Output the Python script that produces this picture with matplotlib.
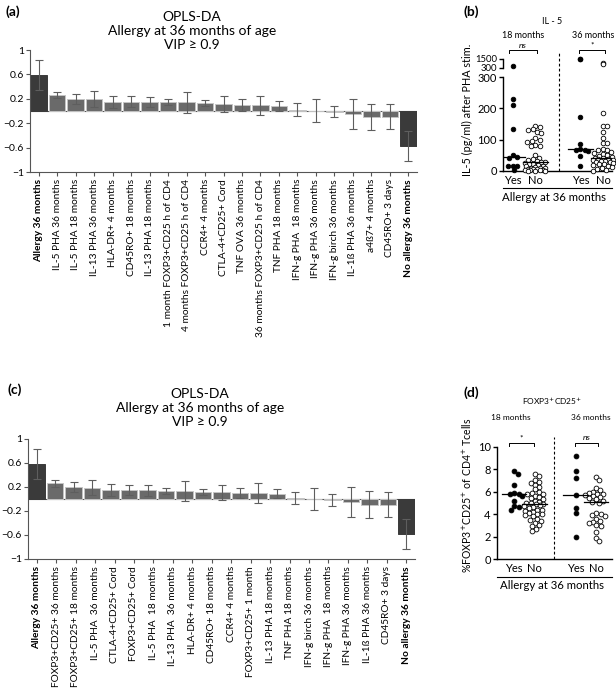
import numpy as np
import matplotlib
matplotlib.use('Agg')
import matplotlib.pyplot as plt
from matplotlib.ticker import FuncFormatter

plt.rcParams['font.family'] = ['Lato', 'DejaVu Sans']

# ---- panel (a) OPLS-DA loadings ----
labels_a = ['Allergy 36 months', 'IL-5 PHA 36 months', 'IL-5 PHA 18 months', 'IL-13 PHA 36 months',
            'HLA-DR+ 4 months', 'CD45RO+ 18 months', 'IL-13 PHA 18 months',
            '1 month FOXP3+CD25 h of CD4', '4 months FOXP3+CD25 h of CD4', 'CCR4+ 4 months',
            'CTLA-4+CD25+ Cord', 'TNF OVA 36 months', '36 months FOXP3+CD25 h of CD4',
            'TNF PHA 18 months', 'IFN-g PHA  18 months', 'IFN-g PHA 36 months',
            'IFN-g birch 36 months', 'IL-1ß PHA 36 months', 'a4ß7+ 4 months', 'CD45RO+ 3 days',
            'No allergy 36 months']
vals_a = [0.59, 0.26, 0.20, 0.20, 0.15, 0.15, 0.15, 0.15, 0.14, 0.125, 0.115,
          0.094, 0.094, 0.083, 0.02, 0.003, -0.015, -0.043, -0.093, -0.095, -0.58]
errs_a = [0.25, 0.05, 0.08, 0.13, 0.10, 0.09, 0.085, 0.05, 0.165, 0.05, 0.125,
          0.095, 0.16, 0.085, 0.11, 0.19, 0.09, 0.245, 0.215, 0.205, 0.245]

# ---- panel (c) OPLS-DA loadings ----
labels_c = ['Allergy 36 months', 'FOXP3+CD25+ 36 months', 'FOXP3+CD25+ 18 months', 'IL-5 PHA  36 months',
            'CTLA-4+CD25+ Cord', 'FOXP3+CD25+ Cord', 'IL-5 PHA  18 months', 'IL-13 PHA  36 months',
            'HLA-DR+ 4 months', 'CD45RO+ 18 months', 'CCR4+ 4 months', 'FOXP3+CD25+ 1 month',
            'IL-13 PHA 18 months', 'TNF PHA 18 months', 'IFN-g birch 36 months', 'IFN-g PHA  18 months',
            'IFN-g PHA 36 months', 'IL-1ß PHA 36 months', 'CD45RO+ 3 days', 'No allergy 36 months']
vals_c = [0.59, 0.26, 0.20, 0.19, 0.15, 0.15, 0.145, 0.14, 0.133, 0.116, 0.11,
          0.10, 0.10, 0.09, 0.017, 0.0, -0.017, -0.05, -0.094, -0.094, -0.58]
errs_c = [0.25, 0.06, 0.085, 0.13, 0.10, 0.09, 0.095, 0.05, 0.165, 0.053, 0.13,
          0.085, 0.165, 0.075, 0.105, 0.19, 0.095, 0.25, 0.22, 0.21, 0.245]

# ---- panel (b) IL-5 (pg/ml) ----
il5_yes18 = [520, 230, 212, 133, 50, 45, 42, 16, 16, 16, 2]
il5_no18 = [145, 140, 133, 130, 125, 120, 105, 100, 95, 92, 82, 80, 80, 50, 42, 38, 35, 30, 28, 28,
            25, 22, 20, 18, 16, 14, 12, 10, 9, 8, 6, 5, 4, 3, 2, 2, 1, 0, 0, 0]
il5_yes36 = [1550, 1450, 172, 85, 70, 68, 65, 62, 48, 15]
il5_no36 = [1000, 820, 185, 145, 142, 125, 105, 90, 88, 70, 68, 65, 60, 58, 55, 50, 48, 45, 42, 40,
            38, 36, 35, 33, 32, 30, 28, 27, 25, 22, 20, 18, 15, 12, 10, 5, 2, 0]

# ---- panel (d) %FOXP3+CD25+ of CD4+ T cells ----
fox_yes18 = [7.8, 7.6, 6.6, 5.9, 5.8, 5.8, 5.6, 5.2, 4.7, 4.4, 4.6]
fox_no18 = [7.6, 7.4, 7.0, 6.9, 6.8, 6.6, 6.4, 6.2, 6.0, 5.9, 5.8, 5.8, 5.6, 5.5, 5.4, 5.3, 5.2, 5.1,
            5.0, 5.0, 4.9, 4.9, 4.8, 4.7, 4.6, 4.5, 4.4, 4.4, 4.3, 4.2, 4.1, 4.0, 4.0, 3.9, 3.8, 3.6,
            3.5, 3.4, 3.2, 3.0, 2.9, 2.7, 2.5]
fox_yes36 = [9.2, 7.8, 7.2, 5.7, 4.5, 4.1, 2.0]
fox_no36 = [7.3, 7.0, 6.3, 6.1, 6.0, 5.9, 5.8, 5.8, 5.7, 5.6, 5.5, 5.4, 5.3, 5.2, 5.1, 5.0, 4.1,
            4.0, 3.9, 3.8, 3.6, 3.4, 3.3, 3.2, 3.0, 2.9, 2.4, 1.9, 1.6]

group_ticks = ['Yes', 'No', 'Yes', 'No']
group_x = [0, 1, 3, 4]

W, H = 616, 690
fig = plt.figure(figsize=(W / 100, H / 100), dpi=100)

# overlay in pixel coordinates for titles / brackets
ov = fig.add_axes([0, 0, 1, 1])
ov.set_xlim(0, W)
ov.set_ylim(H, 0)
ov.axis('off')


def px_axes(l, t, r, b):
    return fig.add_axes([l / W, 1 - b / H, (r - l) / W, (b - t) / H])


def txt(x, y, s, **kw):
    kw.setdefault('ha', 'center')
    kw.setdefault('va', 'center')
    ov.text(x, y, s, **kw)


def minus_fmt(v, pos):
    return ('%g' % v).replace('-', '\u2212')


def bar_panel(rect, labels, vals, errs):
    ax = px_axes(*rect)
    x = np.arange(len(vals))
    cols = ['#3a3a3a' if i in (0, len(vals) - 1) else '#6a6a6a' for i in x]
    edges = ['#3a3a3a' if i in (0, len(vals) - 1) else '#c4c4c4' for i in x]
    ax.bar(x, vals, width=0.9, color=cols, edgecolor=edges, linewidth=0.7, zorder=2)
    ax.errorbar(x, vals, yerr=errs, fmt='none', ecolor='#5e5e5e', elinewidth=0.8,
                capsize=3.2, capthick=0.8, zorder=3)
    ax.axhline(0, color='#555555', lw=0.8, zorder=1)
    ax.set_ylim(-1, 1)
    ax.set_xlim(-0.47, len(vals) - 0.53)
    ax.set_yticks([-1, -0.6, -0.2, 0.2, 0.6, 1])
    ax.yaxis.set_major_formatter(FuncFormatter(minus_fmt))
    ax.set_xticks(np.linspace(0, len(vals) - 1, len(labels)))
    ax.set_xticklabels(labels, rotation=90, fontsize=7.3)
    tl = ax.get_xticklabels()
    tl[0].set_fontweight('bold')
    tl[-1].set_fontweight('bold')
    ax.tick_params(axis='y', labelsize=7.5, length=3, width=0.8, color='#555555', pad=1.5)
    ax.tick_params(axis='x', length=3, width=0.8, color='#555555', pad=2)
    for s in ('top', 'right'):
        ax.spines[s].set_visible(False)
    for s in ('left', 'bottom'):
        ax.spines[s].set_color('#555555')
        ax.spines[s].set_linewidth(0.8)
    return ax


def swarm(vals, center, ppy, ppx, d, maxw):
    vals = np.asarray(vals, float)
    xs = np.zeros(len(vals))
    placed = []
    cand = np.arange(-maxw, maxw + 0.01, 0.5)
    cand = cand[np.argsort(np.abs(cand) + 0.01 * (cand < 0))]
    for i in np.argsort(vals)[::-1]:
        y = vals[i] * ppy
        best, best_d = 0.0, -1.0
        for off in cand:
            md = min([np.hypot(off - px, y - py) for px, py in placed] + [1e9])
            if md >= d:
                best = off
                break
            if md > best_d:
                best, best_d = off, md
        placed.append((best, y))
        xs[i] = best
    return center + xs / ppx


def dots(ax, vals, center, ppy, ppx, filled, size, maxw):
    xs = swarm(vals, center, ppy, ppx, 4.4, maxw)
    fc = 'black' if filled else 'white'
    ax.scatter(xs, vals, s=size, facecolor=fc, edgecolor='black', linewidths=0.6,
               zorder=3, clip_on=False)


def style_scatter_ax(ax):
    for s in ('top', 'right'):
        ax.spines[s].set_visible(False)
    for s in ('left', 'bottom'):
        ax.spines[s].set_linewidth(1.0)
    ax.tick_params(axis='y', labelsize=8, length=3, width=1.0, pad=1.5)
    ax.tick_params(axis='x', labelsize=8, length=0, pad=3)


# ---------------- panel (a) ----------------
txt(5, 12, '(a)', fontsize=10, fontweight='bold', ha='left')
txt(192, 31, 'OPLS-DA\nAllergy at 36 months of age\nVIP \u2265 0.9', fontsize=10, linespacing=1.2)
bar_panel((30, 50, 417, 172), labels_a, vals_a, errs_a)

# ---------------- panel (c) ----------------
txt(8, 390, '(c)', fontsize=10, fontweight='bold', ha='left')
txt(200, 408, 'OPLS-DA\nAllergy at 36 months of age\nVIP \u2265 0.9', fontsize=10, linespacing=1.2)
bar_panel((28, 439, 415, 559), labels_c, vals_c, errs_c)

# ---------------- panel (b) ----------------
txt(463, 12, '(b)', fontsize=10, fontweight='bold', ha='left')
txt(552, 22, 'IL - 5', fontsize=6.5)
txt(523, 35, '18 months', fontsize=6.5)
txt(593, 35, '36 months', fontsize=6.5)
for x0, x1, mark, st in ((509, 537, 'ns', 'italic'), (579, 605, '*', 'normal')):
    ov.plot([x0, x0, x1, x1], [53, 50, 50, 53], color='black', lw=0.7)
    txt((x0 + x1) / 2, 45, mark, fontsize=6, style=st)

ppx_b = 22.5
lo = px_axes(503, 77.3, 612, 170.7)
hi = px_axes(503, 59, 612, 67.5)
lo.set_ylim(0, 300)
hi.set_ylim(300, 1500)
for ax in (lo, hi):
    ax.set_xlim(-0.44, 4.4)
    style_scatter_ax(ax)
    ax.patch.set_alpha(0)
hi.spines['bottom'].set_visible(False)
hi.set_xticks([])
hi.set_yticks([300, 1500])
hi.tick_params(axis='y', labelsize=6.8, pad=1.5)
lo.set_yticks([0, 100, 200, 300])
lo.set_xticks(group_x)
lo.set_xticklabels(group_ticks)

groups_b = [(il5_yes18, 0, True), (il5_no18, 1, False), (il5_yes36, 3, True), (il5_no36, 4, False)]
for vals, c, filled in groups_b:
    v = np.asarray(vals, float)
    low, high = v[v <= 300], v[v > 300]
    mw = 8 if filled else 10
    dots(lo, low, c, 93.4 / 300, ppx_b, filled, 11, mw)
    if len(high):
        dots(hi, high, c, 8.5 / 1200 * 8, ppx_b, filled, 11, mw)
    m = np.median(v)
    lo.plot([c - 0.55, c + 0.55], [m, m], color='black', lw=0.9, zorder=4)
lo.axvline(2.04, ymin=0, ymax=(170.7 - 52) / (170.7 - 77.3), color='black', lw=0.8,
           ls=(0, (2.5, 2)), clip_on=False)
ov.plot([503, 612], [188, 188], color='black', lw=0.8)
txt(554, 197.5, 'Allergy at 36 months', fontsize=8.2)
txt(467, 110, 'IL-5 (pg/ml) after PHA stim.', fontsize=7.8, rotation=90)

# ---------------- panel (d) ----------------
txt(463, 393, '(d)', fontsize=10, fontweight='bold', ha='left')
txt(552, 401, 'FOXP3$^{+}$CD25$^{+}$', fontsize=6)
txt(511, 417, '18 months', fontsize=6)
txt(591, 417, '36 months', fontsize=6)
for x0, x1, mark, st in ((509, 534, '*', 'normal'), (575, 598, 'ns', 'italic')):
    ov.plot([x0, x0, x1, x1], [446, 443, 443, 446], color='black', lw=0.7)
    txt((x0 + x1) / 2, 438, mark, fontsize=6, style=st)

ppx_d = 20.5
axd = px_axes(497, 446.7, 612, 559)
axd.set_ylim(0, 10)
axd.set_xlim(-0.83, 4.78)
style_scatter_ax(axd)
axd.patch.set_alpha(0)
axd.set_yticks([0, 2, 4, 6, 8, 10])
axd.set_xticks(group_x)
axd.set_xticklabels(group_ticks)
groups_d = [(fox_yes18, 0, True), (fox_no18, 1, False), (fox_yes36, 3, True), (fox_no36, 4, False)]
for vals, c, filled in groups_d:
    mw = 8 if filled else 11
    dots(axd, vals, c, 11.25, ppx_d, filled, 12, mw)
    m = np.median(vals)
    axd.plot([c - 0.6, c + 0.6], [m, m], color='black', lw=0.9, zorder=4)
axd.axvline(1.95, ymin=0, ymax=(559 - 437) / (559 - 446.7), color='black', lw=0.8,
            ls=(0, (2.5, 2)), clip_on=False)
ov.plot([497, 612], [577, 577], color='black', lw=0.8)
txt(552, 585.5, 'Allergy at 36 months', fontsize=8.2)
txt(467, 495, '%FOXP3$^{+}$CD25$^{+}$ of CD4$^{+}$ Tcells', fontsize=7.6, rotation=90)

fig.savefig('out.png', dpi=100)
